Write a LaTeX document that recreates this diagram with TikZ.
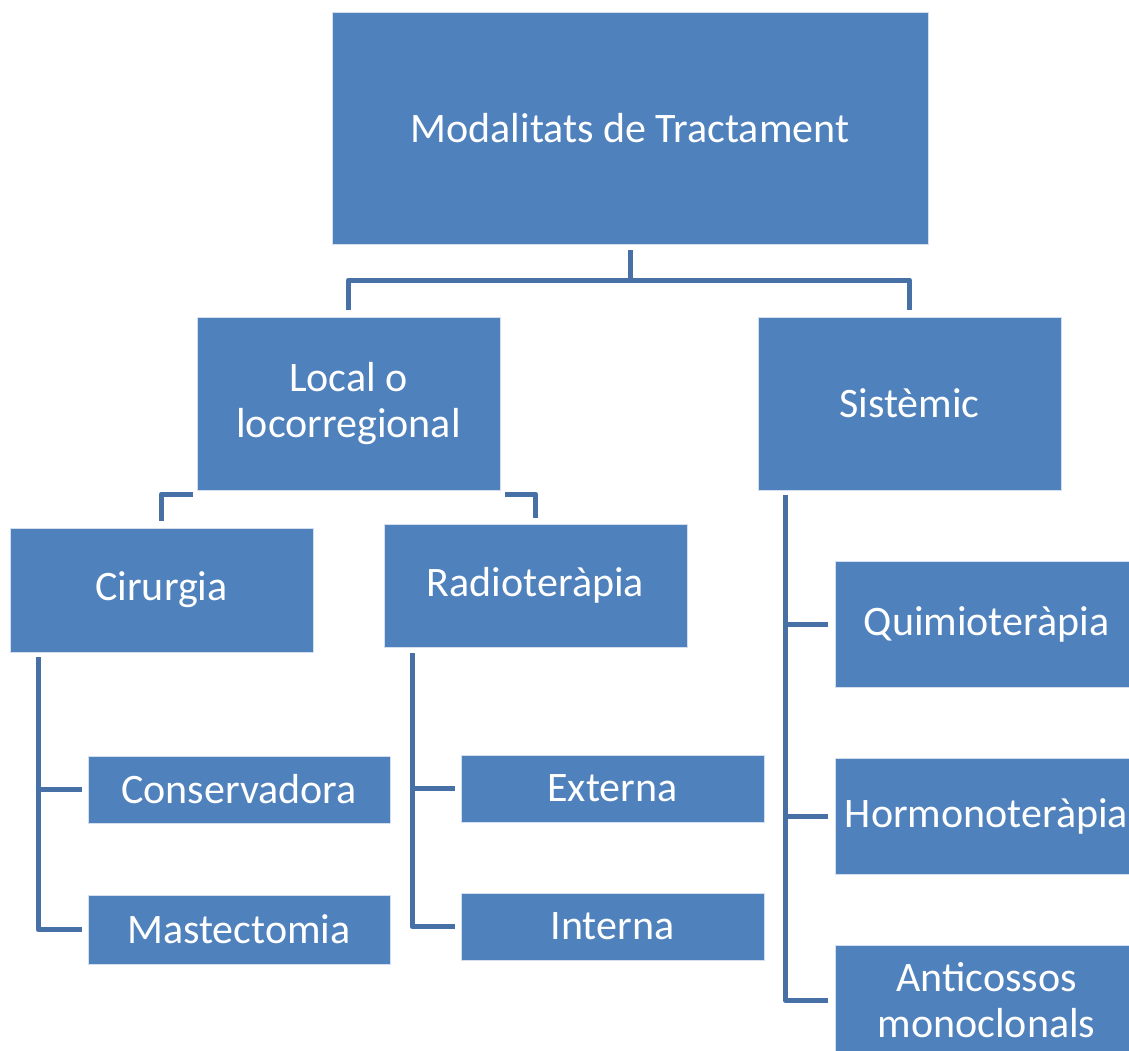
\documentclass[tikz,border=0pt]{standalone}
\usepackage{fontspec}
\setmainfont{Carlito}
\usetikzlibrary{calc}
\definecolor{boxblue}{HTML}{4F81BD}
\definecolor{linkblue}{RGB}{70,112,166}
\tikzset{
  box/.style={rectangle, fill=boxblue, draw=white!75!boxblue, line width=0.8pt,
    text=white, align=center, inner sep=0pt, outer sep=0pt,
    font=\fontsize{42}{46}\selectfont},
  link/.style={draw=linkblue, line width=5pt, line join=round}
}
\begin{document}
\begin{tikzpicture}[x=1pt,y=-1pt]
\useasboundingbox (0,0) rectangle (1129,1050);
\fill[white] (0,0) rectangle (1129,1050);
% nodes
\node[box, minimum width=596pt, minimum height=232pt] (top) at (630,128) {Modalitats de Tractament};
\node[box, minimum width=303pt, minimum height=173pt] (local) at (348.5,403.5) {Local o\\locorregional};
\node[box, minimum width=303pt, minimum height=173pt] (sist) at (909.5,403.5) {Sistèmic};
\node[box, minimum width=303pt, minimum height=124pt] (cir) at (161.5,590) {Cirurgia};
\node[box, minimum width=303pt, minimum height=123pt] (rad) at (535.5,585.5) {Radioteràpia};
\node[box, minimum width=302pt, minimum height=67pt] (cons) at (239,789.5) {Conservadora};
\node[box, minimum width=302pt, minimum height=69pt] (mast) at (239,929.5) {Mastectomia};
\node[box, minimum width=303pt, minimum height=67pt] (ext) at (612.5,788.5) {Externa};
\node[box, minimum width=303pt, minimum height=67pt] (int) at (612.5,926.5) {Interna};
\node[box, minimum width=303pt, minimum height=126pt] (quim) at (986.5,624) {Quimioteràpia};
\node[box, minimum width=303pt, minimum height=116pt] (horm) at (986.5,816) {Hormonoteràpia};
\node[box, minimum width=303pt, minimum height=110pt] (anti) at (986.5,1000) {Anticossos\\monoclonals};
% connectors
\draw[link, shorten <=6pt, shorten >=7pt] (top.south) -- ++(0,36) -| (local.north);
\draw[link, shorten <=6pt, shorten >=7pt] (top.south) -- ++(0,36) -| (sist.north);
\draw[link, shorten >=7pt] ($(local.south west)+(-4,4)$) -| (cir.north);
\draw[link, shorten >=6pt] ($(local.south east)+(5,4)$) -| (rad.north);
\draw[link, shorten >=6pt] ($(cir.south west)+(28,5)$) |- (cons.west);
\draw[link, shorten >=6pt] ($(cir.south west)+(28,5)$) |- (mast.west);
\draw[link, shorten >=6pt] ($(rad.south west)+(28,6)$) |- (ext.west);
\draw[link, shorten >=6pt] ($(rad.south west)+(28,6)$) |- (int.west);
\draw[link, shorten >=7pt] ($(sist.south west)+(27,5)$) |- (quim.west);
\draw[link, shorten >=7pt] ($(sist.south west)+(27,5)$) |- (horm.west);
\draw[link, shorten >=7pt] ($(sist.south west)+(27,5)$) |- (anti.west);
\end{tikzpicture}
\end{document}
